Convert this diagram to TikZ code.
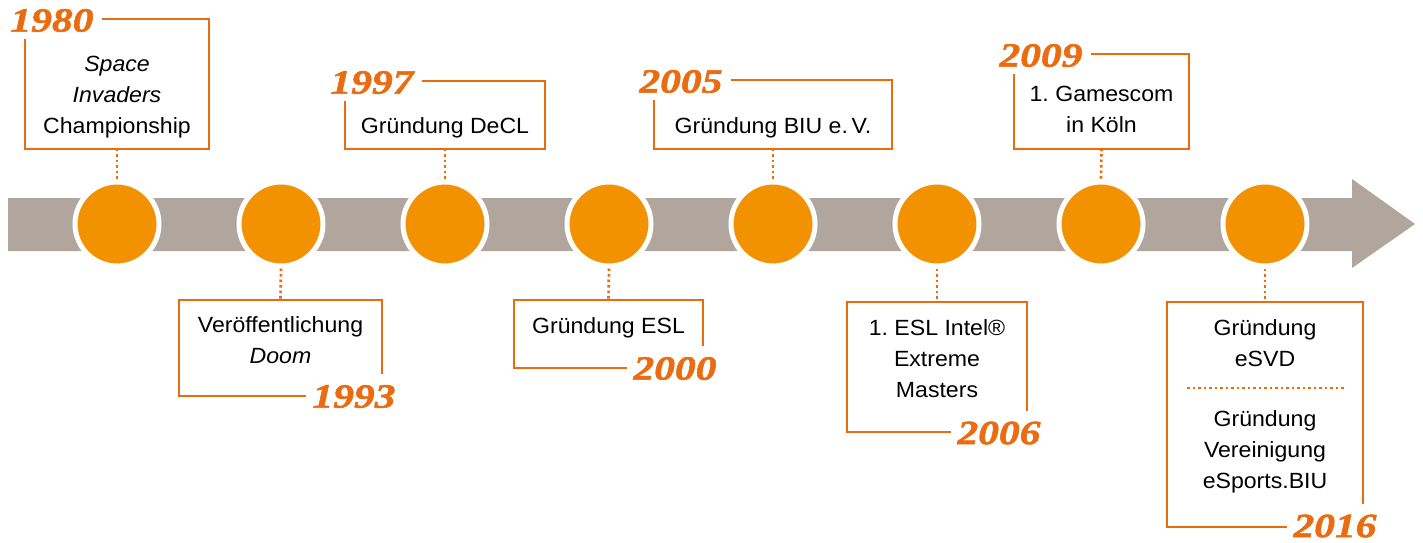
\documentclass[tikz,border=0pt]{standalone}
\usepackage{fontspec}
\setmainfont{Liberation Sans}[FakeStretch=1.05]
\newfontfamily\yearfont{Liberation Serif}[FakeStretch=1.22, FakeBold=1.6]
\definecolor{circor}{HTML}{F39200}
\definecolor{frameor}{HTML}{EA6B10}
\definecolor{bargray}{HTML}{B0A69D}
\frenchspacing
\begin{document}
\begin{tikzpicture}[x=1pt,y=-1pt,
  evdot/.style={circle, fill=circor, draw=white, line width=5pt, minimum size=84pt, inner sep=0pt},
  evbox/.style={rectangle, inner sep=0pt, outer sep=0pt},
  boxframe/.style={draw=frameor, line width=2pt},
  yearT/.style={font={\yearfont\bfseries\itshape\fontsize{34}{34}\selectfont}, text=frameor, inner xsep=9pt, inner ysep=7pt, outer sep=0pt},
  yearB/.style={font={\yearfont\bfseries\itshape\fontsize{34}{34}\selectfont}, text=frameor, inner xsep=7pt, inner ysep=11pt, outer sep=0pt},
  evtext/.style={font={\fontsize{22}{31}\selectfont}, align=center, anchor=base, inner sep=0pt},
  dotline/.style={draw=frameor, line width=2.7pt, dash pattern=on 2.6pt off 2.9pt}]
\useasboundingbox (0,0) rectangle (1423,542);

% arrow bar
\fill[bargray] (8,198) -- (1352,198) -- (1352,179) -- (1415,224) -- (1352,268) -- (1352,251) -- (8,251) -- cycle;

% circles
\foreach \i/\x in {1/117,2/281,3/445,4/609,5/773,6/937,7/1101,8/1265}
  \node[evdot] (c\i) at (\x,224) {};

% boxes (frames)
\node[evbox, minimum width=184pt, minimum height=130pt] (b1) at (117,83.5) {};
\node[evbox, minimum width=203pt, minimum height=96pt]  (b2) at (280.5,347.5) {};
\node[evbox, minimum width=200pt, minimum height=68pt]  (b3) at (445,114.5) {};
\node[evbox, minimum width=189pt, minimum height=68pt]  (b4) at (608.5,333.5) {};
\node[evbox, minimum width=238pt, minimum height=69pt]  (b5) at (773,114) {};
\node[evbox, minimum width=180pt, minimum height=130pt] (b6) at (937,367) {};
\node[evbox, minimum width=175pt, minimum height=95pt]  (b7) at (1101.5,101) {};
\node[evbox, minimum width=196pt, minimum height=225pt] (b8) at (1265,414.5) {};

% years
\node[yearT] (y1) at ([shift={(27pt,-2pt)}]b1.north west) {1980};
\node[yearB] (y2) at ([shift={(-28pt,-1pt)}]b2.south east) {1993};
\node[yearT] (y3) at ([shift={(27pt,-2pt)}]b3.north west) {1997};
\node[yearB] (y4) at ([shift={(-28pt,-1pt)}]b4.south east) {2000};
\node[yearT] (y5) at ([shift={(27pt,-2pt)}]b5.north west) {2005};
\node[yearB] (y6) at ([shift={(-28pt,-1pt)}]b6.south east) {2006};
\node[yearT] (y7) at ([shift={(27pt,-2pt)}]b7.north west) {2009};
\node[yearB] (y8) at ([shift={(-28pt,1pt)}]b8.south east) {2016};

% frames with gaps for years
\foreach \n in {1,3,5,7}
  \draw[boxframe] (y\n.east |- b\n.north) -- (b\n.north east) -- (b\n.south east) -- (b\n.south west) -- (b\n.west |- y\n.south);
\foreach \n in {2,4,6,8}
  \draw[boxframe] (b\n.east |- y\n.north) -- (b\n.north east) -- (b\n.north west) -- (b\n.south west) -- (y\n.west |- b\n.south);

% texts
\node[evtext] (t1) at (117,133) {\itshape Space\\\itshape Invaders\\Championship};
\node[evtext] (t2) at (280.5,363) {Veröffentlichung\\\itshape Doom};
\node[evtext] (t3) at (445,133) {Gründung DeCL};
\node[evtext] (t4) at (608.5,333) {Gründung ESL};
\node[evtext] (t5) at (773,133) {Gründung BIU e.\,V.};
\node[evtext] (t6) at (937,397) {1. ESL Intel®\\Extreme\\Masters};
\node[evtext] (t7) at (1101.5,132) {1. Gamescom\\in Köln};
\node[evtext] (t8a) at (1265,366) {Gründung\\eSVD};
\node[evtext] (t8b) at (1265,488) {Gründung\\Vereinigung\\eSports.BIU};

% divider in last box
\coordinate (d1) at (1187,388);
\coordinate (d2) at (1345,388);
\draw[dotline] (d1) -- (d2);

% dotted connectors
\foreach \n in {1,3,5,7}
  \draw[dotline] (b\n.south) -- (c\n.north);
\foreach \n in {2,4,6,8}
  \draw[dotline] (c\n.south) -- (b\n.north);
\end{tikzpicture}
\end{document}
